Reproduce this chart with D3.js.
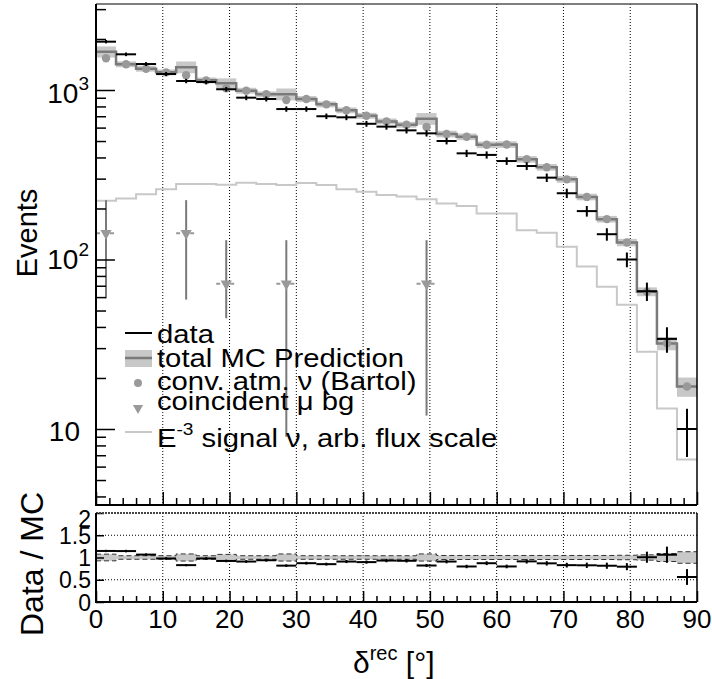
<!DOCTYPE html>
<html><head><meta charset="utf-8">
<script src="https://cdn.jsdelivr.net/npm/d3@7"></script>
<style>body{margin:0;background:#fff}svg{font-family:"Liberation Sans",Arial,Helvetica,sans-serif}</style>
</head><body><svg id="c" width="712" height="679"></svg>
<script>
// ---- data (30 bins of 3 degrees) ----
const binLow = [0,3,6,9,12,15,18,21,24,27,30,33,36,39,42,45,48,51,54,57,60,63,66,69,72,75,78,81,84,87];
const binWidth = 3;
const dataCounts = [1928,1624,1423,1243,1130,1115,1010,901,885,772,772,700,690,632,608,578,555,500,423,414,381,356,304,246,193,141,100,65,34,10];
const convAtm = [1538,1419,1336,1271,1221,1140,1023,991,943,873,885,823,759,705,653,624,605,550,530,475,477,390,350,297,234,173,126,64.6,32,17.8];
const coincMu    = [143,0,0,0,143,0,72,0,0,72,0,0,0,0,0,0,72,0,0,0,0,0,0,0,0,0,0,0,0,0];
const coincMuUp  = [224,0,0,0,224,0,130,0,0,130,0,0,0,0,0,0,130,0,0,0,0,0,0,0,0,0,0,0,0,0];
const coincMuLow = [59,0,0,0,58,0,45,0,0,9,0,0,0,0,0,0,12,0,0,0,0,0,0,0,0,0,0,0,0,0];
const signalE3 = [222,229,243,260,279,279,276,284,279,275,283,275,260,251,240,235,227,214,207,187,187,149,144,119,91,69,54,28.6,13.2,6.6];
const mcRelErr = [0.075,0.04,0.04,0.04,0.08,0.04,0.07,0.04,0.04,0.08,0.04,0.04,0.04,0.04,0.04,0.04,0.08,0.045,0.045,0.045,0.045,0.045,0.045,0.045,0.045,0.045,0.05,0.06,0.09,0.13];
const xTicks = [0,10,20,30,40,50,60,70,80,90];
const ratioTicks = [0,0.5,1,1.5,2];
const ratioTickLabels = ["0","0.5","1","1.5","2"];
const logMajor = [10,100,1000];
const logMajorLabels = [["10",""],["10","2"],["10","3"]];
const legendLabels = ["data","total MC Prediction","conv. atm. \u03bd (Bartol)","coincident \u03bc bg","signal \u03bd, arb. flux scale"];

// ---- derived ----
const totalMC = convAtm.map((v,i)=>v+coincMu[i]);
const dataErr = dataCounts.map(v=>Math.sqrt(v));
const ratio = dataCounts.map((v,i)=>v/totalMC[i]);
const ratioErr = dataErr.map((e,i)=>e/totalMC[i]);

const svg = d3.select("#c");
const L=96, R=697, T1=4, B1=505, T2=513, B2=602;
const x = d3.scaleLinear().domain([0,90]).range([L,R]);
const yTop = d3.scaleLog().domain([Math.pow(10,0.5516), Math.pow(10,3.5074)]).range([B1,T1]);
const yRat = d3.scaleLinear().domain([0,2]).range([B2,T2]);

const BLACK="#000", DGRAY="#7a7a7a", MGRAY="#999999", LGRAY="#c8c8c8";

function stepPts(vals){ const p = binLow.map((b,i)=>[b, vals[i]]); p.push([90, vals[vals.length-1]]); return p; }

// ---- TOP PANEL ----
const topG = svg.append("g");
const defs = svg.append("defs");
defs.append("clipPath").attr("id","ct").append("rect").attr("x",L).attr("y",T1).attr("width",R-L).attr("height",B1-T1);
// vertical grid
topG.append("g").selectAll("line").data(xTicks.slice(1,-1)).join("line")
  .attr("x1",d=>x(d)).attr("x2",d=>x(d)).attr("y1",T1).attr("y2",B1)
  .attr("stroke","#000").attr("stroke-width",1).attr("stroke-dasharray","1,2");
const pl = topG.append("g").attr("clip-path","url(#ct)");
// MC error band
pl.append("g").selectAll("rect").data(binLow).join("rect")
  .attr("x",(d)=>x(d)).attr("width",x(binWidth)-x(0))
  .attr("y",(d,i)=>yTop(totalMC[i]*(1+mcRelErr[i])))
  .attr("height",(d,i)=>yTop(totalMC[i]*(1-mcRelErr[i]))-yTop(totalMC[i]*(1+mcRelErr[i])))
  .attr("fill",LGRAY);
// signal line
const stepLine = d3.line().x(d=>x(d[0])).y(d=>yTop(d[1])).curve(d3.curveStepAfter);
pl.append("path").attr("d",stepLine(stepPts(signalE3))).attr("fill","none").attr("stroke",LGRAY).attr("stroke-width",2);
// MC total line
pl.append("path").attr("d",stepLine(stepPts(totalMC))).attr("fill","none").attr("stroke",DGRAY).attr("stroke-width",2.5);
// coincident mu
const muIdx = binLow.map((b,i)=>i).filter(i=>coincMu[i]>0);
const mu = pl.append("g");
muIdx.forEach(i=>{
  const cx = x(binLow[i]+binWidth/2), cy = yTop(coincMu[i]);
  mu.append("line").attr("x1",cx).attr("x2",cx).attr("y1",yTop(coincMuUp[i])).attr("y2",yTop(coincMuLow[i])).attr("stroke",DGRAY).attr("stroke-width",2);
  mu.append("line").attr("x1",x(binLow[i])).attr("x2",x(binLow[i]+binWidth)).attr("y1",cy).attr("y2",cy).attr("stroke",MGRAY).attr("stroke-width",2).attr("stroke-dasharray","4,3");
  mu.append("path").attr("d",d3.symbol(d3.symbolTriangle,55)()).attr("transform",`translate(${cx},${cy}) rotate(180)`).attr("fill",MGRAY);
});
// conv atm dots
pl.append("g").selectAll("circle").data(binLow).join("circle")
  .attr("cx",d=>x(d+binWidth/2)).attr("cy",(d,i)=>yTop(convAtm[i])).attr("r",4.2).attr("fill",MGRAY);
// data
const dg = pl.append("g").attr("stroke",BLACK).attr("stroke-width",2);
binLow.forEach((b,i)=>{
  const cx=x(b+binWidth/2), cy=yTop(dataCounts[i]);
  dg.append("line").attr("x1",x(b)).attr("x2",x(b+binWidth)).attr("y1",cy).attr("y2",cy);
  dg.append("line").attr("x1",cx).attr("x2",cx).attr("y1",yTop(dataCounts[i]+dataErr[i])).attr("y2",yTop(Math.max(dataCounts[i]-dataErr[i],0.1)));
});
// axes top panel
const minorLog = [];
[1,10,100,1000].forEach(dec=>{for(let k=2;k<10;k++){const v=dec*k; if(v>=yTop.domain()[0]&&v<=yTop.domain()[1]) minorLog.push(v);}});
topG.append("g").attr("transform",`translate(${L},0)`).call(d3.axisRight(yTop).tickValues(minorLog).tickSize(10).tickFormat(""))
  .call(g=>g.select(".domain").remove()).selectAll("line").attr("stroke","#000").attr("stroke-width",1.5);
topG.append("g").attr("transform",`translate(${L},0)`).call(d3.axisRight(yTop).tickValues(logMajor).tickSize(19).tickFormat(""))
  .call(g=>g.select(".domain").remove()).selectAll("line").attr("stroke","#000").attr("stroke-width",1.5);
const xMinor = d3.range(0,91,2).filter(v=>v%10!==0);
topG.append("g").attr("transform",`translate(0,${B1})`).call(d3.axisTop(x).tickValues(xMinor).tickSize(7).tickFormat(""))
  .call(g=>g.select(".domain").remove()).selectAll("line").attr("stroke","#000").attr("stroke-width",1.5);
topG.append("g").attr("transform",`translate(0,${B1})`).call(d3.axisTop(x).tickValues(xTicks).tickSize(13).tickFormat(""))
  .call(g=>g.select(".domain").remove()).selectAll("line").attr("stroke","#000").attr("stroke-width",1.5);
// frame
topG.append("line").attr("x1",L).attr("x2",R).attr("y1",T1).attr("y2",T1).attr("stroke","#555").attr("stroke-width",1.5);
topG.append("line").attr("x1",R).attr("x2",R).attr("y1",T1).attr("y2",B1).attr("stroke","#000").attr("stroke-width",1.5);
topG.append("line").attr("x1",L).attr("x2",L).attr("y1",T1).attr("y2",B1+1).attr("stroke","#000").attr("stroke-width",2);
topG.append("line").attr("x1",L).attr("x2",R).attr("y1",B1).attr("y2",B1).attr("stroke","#000").attr("stroke-width",2);
// y labels
const labOff = [12,9,13];
logMajor.forEach((v,i)=>{
  const lab = logMajorLabels[i];
  const t = topG.append("text").attr("y",yTop(v)+labOff[i]).attr("font-size",28).attr("text-anchor","end");
  if(lab[1]){ t.attr("x",89); t.append("tspan").text(lab[0]); t.append("tspan").attr("dy",-13).attr("font-size",19).text(lab[1]); }
  else { t.attr("x",80).text(lab[0]); }
});
svg.append("text").attr("transform","translate(37,233) rotate(-90)").attr("text-anchor","middle").attr("font-size",29).text("Events");

// legend
const lg = svg.append("g");
const lx0=125, lx1=152, tx=157;
const rowsY=[333,358,383,408,432];
const textY=[343,367,390,410,447];
lg.append("line").attr("x1",lx0).attr("x2",lx1).attr("y1",rowsY[0]).attr("y2",rowsY[0]).attr("stroke",BLACK).attr("stroke-width",2);
lg.append("rect").attr("x",lx0).attr("width",lx1-lx0).attr("y",rowsY[1]-8).attr("height",17).attr("fill",LGRAY);
lg.append("line").attr("x1",lx0).attr("x2",lx1).attr("y1",rowsY[1]).attr("y2",rowsY[1]).attr("stroke",DGRAY).attr("stroke-width",2.5);
lg.append("circle").attr("cx",138).attr("cy",rowsY[2]).attr("r",4).attr("fill",MGRAY);
lg.append("path").attr("d",d3.symbol(d3.symbolTriangle,45)()).attr("transform",`translate(138,${rowsY[3]}) rotate(180)`).attr("fill",MGRAY);
lg.append("line").attr("x1",lx0).attr("x2",lx1).attr("y1",rowsY[4]).attr("y2",rowsY[4]).attr("stroke",LGRAY).attr("stroke-width",2);
legendLabels.forEach((s,i)=>{
  const t = lg.append("text").attr("transform",`translate(${tx},${textY[i]}) scale(1.125,1)`).attr("font-size",26);
  if(i===4){ t.append("tspan").text("E"); t.append("tspan").attr("dy",-12).attr("font-size",17).text("-3");
    t.append("tspan").attr("dy",12).text(" "+s); }
  else t.text(s);
});

// ---- RATIO PANEL ----
const rp = svg.append("g");
defs.append("clipPath").attr("id","cr").append("rect").attr("x",L).attr("y",T2).attr("width",R-L).attr("height",B2-T2);
rp.append("g").selectAll("line").data(xTicks.slice(1,-1)).join("line")
  .attr("x1",d=>x(d)).attr("x2",d=>x(d)).attr("y1",T2).attr("y2",B2)
  .attr("stroke","#000").attr("stroke-width",1).attr("stroke-dasharray","1,2");
rp.append("g").selectAll("line").data([0.5,1.5]).join("line")
  .attr("x1",L).attr("x2",R).attr("y1",d=>yRat(d)).attr("y2",d=>yRat(d))
  .attr("stroke","#000").attr("stroke-width",1).attr("stroke-dasharray","1,2");
const rpl = rp.append("g").attr("clip-path","url(#cr)");
rpl.append("g").selectAll("rect").data(binLow).join("rect")
  .attr("x",d=>x(d)).attr("width",x(binWidth)-x(0))
  .attr("y",(d,i)=>yRat(1+mcRelErr[i])).attr("height",(d,i)=>yRat(1-mcRelErr[i])-yRat(1+mcRelErr[i]))
  .attr("fill",LGRAY);
const stepR = d3.line().x(d=>x(d[0])).y(d=>yRat(d[1])).curve(d3.curveStepAfter);
rpl.append("path").attr("d",stepR(stepPts(mcRelErr.map(e=>1+e)))).attr("fill","none").attr("stroke","#333").attr("stroke-width",1).attr("stroke-dasharray","5,3");
rpl.append("path").attr("d",stepR(stepPts(mcRelErr.map(e=>1-e)))).attr("fill","none").attr("stroke","#333").attr("stroke-width",1).attr("stroke-dasharray","5,3");
const rg = rpl.append("g").attr("stroke",BLACK).attr("stroke-width",2);
binLow.forEach((b,i)=>{
  const cx=x(b+binWidth/2), cy=yRat(ratio[i]);
  rg.append("line").attr("x1",x(b)).attr("x2",x(b+binWidth)).attr("y1",cy).attr("y2",cy);
  rg.append("line").attr("x1",cx).attr("x2",cx).attr("y1",yRat(ratio[i]+ratioErr[i])).attr("y2",yRat(ratio[i]-ratioErr[i]));
});
rp.append("g").attr("transform",`translate(0,${B2})`).call(d3.axisTop(x).tickValues(xMinor).tickSize(6).tickFormat(""))
  .call(g=>g.select(".domain").remove()).selectAll("line").attr("stroke","#000").attr("stroke-width",1.5);
rp.append("g").attr("transform",`translate(0,${B2})`).call(d3.axisTop(x).tickValues(xTicks).tickSize(11).tickFormat(""))
  .call(g=>g.select(".domain").remove()).selectAll("line").attr("stroke","#000").attr("stroke-width",1.5);
rp.append("g").attr("transform",`translate(${L},0)`).call(d3.axisRight(yRat).tickValues(ratioTicks).tickSize(8).tickFormat(""))
  .call(g=>g.select(".domain").remove()).selectAll("line").attr("stroke","#000").attr("stroke-width",1.5);
rp.append("line").attr("x1",L).attr("x2",R).attr("y1",T2).attr("y2",T2).attr("stroke","#444").attr("stroke-width",2).attr("stroke-dasharray","2,1");
rp.append("line").attr("x1",R).attr("x2",R).attr("y1",T2).attr("y2",B2).attr("stroke","#000").attr("stroke-width",1.5);
rp.append("line").attr("x1",L).attr("x2",L).attr("y1",T2).attr("y2",B2+1).attr("stroke","#000").attr("stroke-width",2);
rp.append("line").attr("x1",L).attr("x2",R).attr("y1",B2).attr("y2",B2).attr("stroke","#000").attr("stroke-width",2);
ratioTicks.forEach((v,i)=>{
  rp.append("text").attr("x",91).attr("y",i===4? yRat(v)+13.5 : yRat(v)+8.5).attr("text-anchor","end").attr("font-size",23).text(ratioTickLabels[i]);
});
xTicks.forEach(v=>{
  svg.append("text").attr("x",x(v)).attr("y",628).attr("text-anchor","middle").attr("font-size",26).text(v);
});
svg.append("text").attr("transform","translate(43,564) rotate(-90)").attr("text-anchor","middle").attr("font-size",32).text("Data / MC");
const xl = svg.append("text").attr("x",353).attr("y",673).attr("font-size",30);
xl.append("tspan").text("\u03b4");
xl.append("tspan").attr("dy",-13).attr("font-size",20).text("rec");
xl.append("tspan").attr("dy",13).text(" [\u00b0]");
</script></body></html>
